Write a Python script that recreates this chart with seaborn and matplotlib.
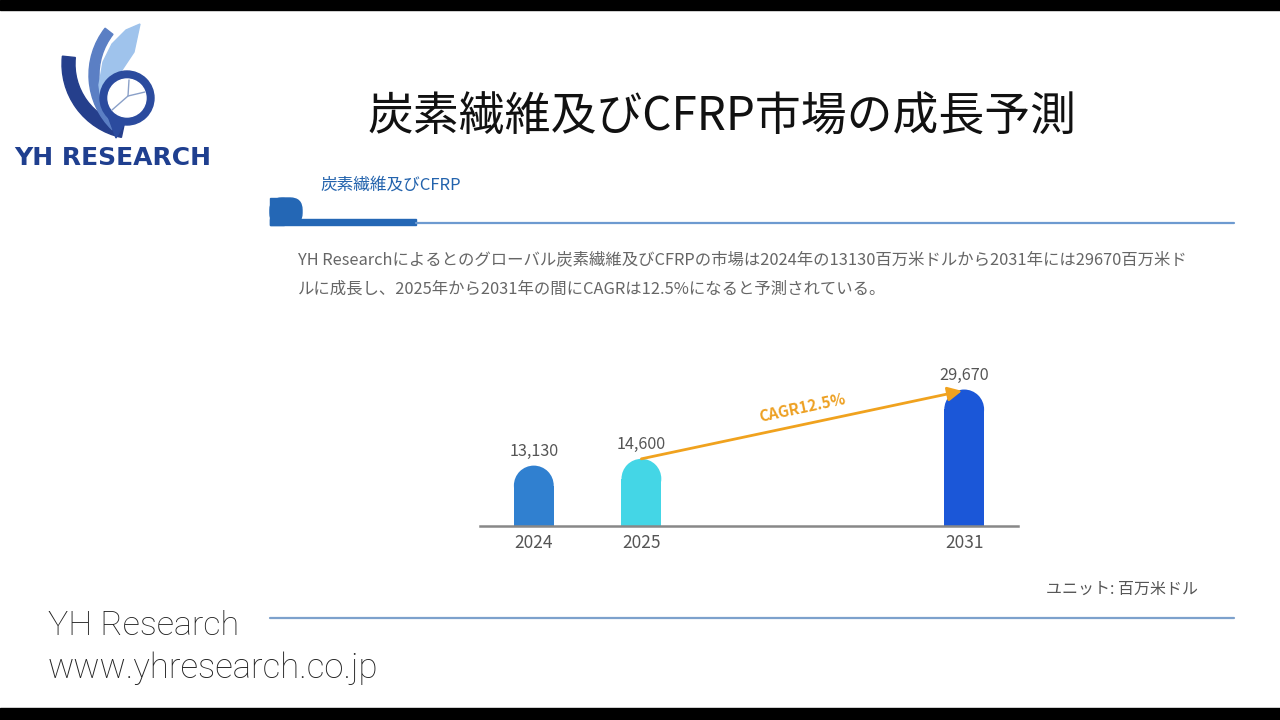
import numpy as np
import pandas as pd
import matplotlib
matplotlib.use("Agg")
import matplotlib.pyplot as plt
import seaborn as sns
from matplotlib.patches import Ellipse, Rectangle, FancyBboxPatch, Wedge, Circle, Polygon

# data
years = ["2024", "2025", "2031"]
market = [13130, 14600, 29670]
cagr_label = "CAGR12.5%"
slots = ["2024", "2025", " ", "  ", "2031"]   # gap keeps 2031 apart
bar_colors = {"2024": "#3080d0", "2025": "#44d6e6", "2031": "#1b57d8"}

title = "炭素繊維及びCFRP市場の成長予測"
section = "炭素繊維及びCFRP"
body1 = "YH Researchによるとのグローバル炭素繊維及びCFRPの市場は2024年の13130百万米ドルから2031年には29670百万米ド"
body2 = "ルに成長し、2025年から2031年の間にCAGRは12.5%になると予測されている。"
unit = "ユニット: 百万米ドル"

sns.set_theme(style="white")
plt.rcParams["font.family"] = ["Noto Sans CJK JP", "DejaVu Sans"]

W, H = 1280, 720
fig = plt.figure(figsize=(12.8, 7.2), dpi=100)
fig.patch.set_facecolor("white")

# background layer in pixel coords
bg = fig.add_axes([0, 0, 1, 1], zorder=0)
bg.set_xlim(0, W)
bg.set_ylim(H, 0)
bg.axis("off")
bg.add_patch(Rectangle((0, 0), W, 10, color="black"))
bg.add_patch(Rectangle((0, 708), W, 12, color="black"))

# logo (rough)
bg.add_patch(Wedge((137, 64), 75, 102, 186, width=13, color="#253f8c"))
bg.add_patch(Wedge((165, 75), 76, 134, 218, width=10, color="#5b7fc4"))
bg.add_patch(Polygon([(140, 24), (126, 30), (112, 44), (103, 62), (99, 85),
                      (101, 100), (108, 84), (122, 70), (134, 52)],
                     closed=True, color="#9fc3ec"))
bg.add_patch(Circle((127, 98), 27, color="#2b4b9e"))
bg.add_patch(Polygon([(108, 116), (124, 124), (116, 138)], closed=True, color="#2b4b9e"))
bg.add_patch(Circle((127, 98), 19, color="white"))
bg.plot([129, 128, 112], [80, 96, 110], color="#8aa0c8", lw=1)
bg.plot([128, 145], [96, 92], color="#8aa0c8", lw=1)
bg.text(113, 158, "YH RESEARCH", ha="center", va="center", fontsize=18,
        fontweight="bold", color="#1f3f8f", family=["DejaVu Sans"])

bg.text(722, 117, title, ha="center", va="center", fontsize=33, color="#111111")

# section header
bg.add_patch(FancyBboxPatch((270, 198), 32, 27,
                            boxstyle="round,pad=0,rounding_size=12", color="#2467b5"))
bg.add_patch(Rectangle((270, 198), 14, 27, color="#2467b5"))
bg.add_patch(Rectangle((270, 219), 146, 6, color="#2467b5"))
bg.plot([416, 1234], [222.5, 222.5], color="#6d9ad0", lw=1.6)
bg.text(320, 185, section, ha="left", va="center", fontsize=12, color="#2363ad")

bg.text(298, 260, body1, ha="left", va="center", fontsize=11.8, color="#666666")
bg.text(298, 289, body2, ha="left", va="center", fontsize=11.8, color="#666666")

bg.text(1198, 589, unit, ha="right", va="center", fontsize=11.5, color="#555555")
bg.plot([270, 1234], [618, 618], color="#7da1cc", lw=1.6)

bg.text(48, 626, "YH Research", ha="left", va="center", fontsize=24.5,
        color="#222222", family=["Roboto"], fontweight="light")
bg.text(48, 668, "www.yhresearch.co.jp", ha="left", va="center", fontsize=25,
        color="#222222", family=["Roboto"], fontweight="light")

# chart
ax = fig.add_axes([480 / W, (H - 526) / H, (1018 - 480) / W, 184 / H], zorder=2)
ax.set_facecolor("none")
df = pd.DataFrame({"year": years, "value": market})
sns.barplot(data=df, x="year", y="value", hue="year", order=slots,
            palette=bar_colors, width=0.37, legend=False, ax=ax, saturation=1)
ax.set_xlim(-0.5, 4.5)
ax.set_ylim(0, 40000)

# rounded tops: shorten bar by radius and put a circle on it
px_per_x = ax.transData.transform((1, 0))[0] - ax.transData.transform((0, 0))[0]
px_per_y = ax.transData.transform((0, 1000))[1] - ax.transData.transform((0, 0))[1]
for p in list(ax.patches):
    h = p.get_height()
    if not h or np.isnan(h) or h <= 0:
        continue
    w = p.get_width()
    r_px = w * px_per_x / 2
    r_y = r_px / px_per_y * 1000
    p.set_height(h - r_y)
    p.set_linewidth(0)
    ax.add_patch(Ellipse((p.get_x() + w / 2, h - r_y), w, 2 * r_y,
                         color=p.get_facecolor(), lw=0))
    ax.text(p.get_x() + w / 2, h + 1300, f"{int(round(h)):,}", ha="center",
            va="bottom", fontsize=11.7, color="#555555")

pos = {s: i for i, s in enumerate(slots)}
ax.annotate("", xy=(pos["2031"] - 0.02, market[2] - 300),
            xytext=(pos["2025"], market[1]),
            arrowprops=dict(arrowstyle="-|>,head_length=0.7,head_width=0.35",
                            color="#f0a21e", lw=2, shrinkA=0, shrinkB=0))
ax.text(2.49, 25650, cagr_label, ha="center", va="center", rotation=12,
        fontsize=11, fontweight="bold", color="#eda022")

sns.despine(ax=ax, left=True)
ax.spines["bottom"].set_color("#888888")
ax.spines["bottom"].set_linewidth(1.8)
ax.set_xlabel("")
ax.set_ylabel("")
ax.set_yticks([])
ax.tick_params(axis="x", length=0, pad=6, labelsize=12.5, labelcolor="#555555")

fig.savefig("out.png", dpi=100)
